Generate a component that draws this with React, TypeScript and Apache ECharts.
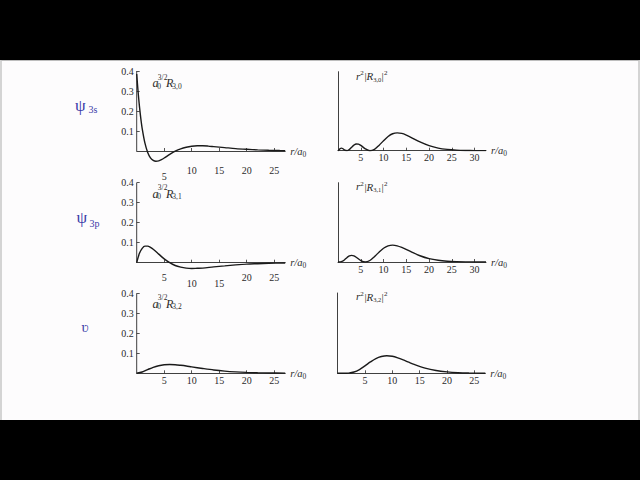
import React, { useEffect, useRef } from "react";
import * as echarts from "echarts";

// ---- data ----
const r30X = [0, 0.25, 0.5, 0.75, 1, 1.5, 2, 2.5, 3, 3.5, 4, 4.5, 5, 6, 7, 8, 9, 10, 11, 12, 13, 14, 16, 18, 20, 22, 24, 26, 27];
const r30Y = [0.385, 0.297, 0.223, 0.162, 0.112, 0.039, -0.007, -0.034, -0.047, -0.051, -0.049, -0.043, -0.035, -0.017, -0.001, 0.011, 0.019, 0.024, 0.026, 0.026, 0.0245, 0.022, 0.017, 0.012, 0.0085, 0.0056, 0.0036, 0.0022, 0.0018];

const r31X = [0, 0.5, 1, 1.5, 2, 2.5, 3, 4, 5, 6, 7, 8, 9, 10, 11, 12, 14, 16, 18, 20, 22, 24, 27];
const r31Y = [0, 0.047, 0.072, 0.083, 0.083, 0.077, 0.067, 0.043, 0.019, 0, -0.014, -0.022, -0.027, -0.029, -0.028, -0.027, -0.021, -0.016, -0.011, -0.007, -0.005, -0.003, -0.0014];

const r32X = [0, 1, 2, 3, 4, 5, 6, 7, 8, 9, 10, 12, 14, 16, 18, 20, 22, 24, 27];
const r32Y = [0, 0.0065, 0.0185, 0.03, 0.038, 0.0426, 0.044, 0.043, 0.04, 0.0364, 0.032, 0.024, 0.0166, 0.011, 0.0072, 0.0046, 0.0028, 0.0017, 0.0008];

const p30X = [0, 0.25, 0.5, 0.75, 1, 1.5, 2, 2.5, 3, 3.5, 4, 4.5, 5, 6, 7, 8, 9, 10, 11, 12, 13, 14, 15, 16, 18, 20, 22, 24, 26, 28, 30, 32.5];
const p30Y = [0, 0.0055, 0.0124, 0.0148, 0.0126, 0.0034, 0.0002, 0.0072, 0.0199, 0.0319, 0.0384, 0.0374, 0.0306, 0.0109, 0.0001, 0.0076, 0.0299, 0.0571, 0.0812, 0.0966, 0.1015, 0.0983, 0.0891, 0.0766, 0.0498, 0.0287, 0.0149, 0.0074, 0.0034, 0.0015, 0.0006, 0.0002];

const p31X = [0, 0.5, 1, 1.5, 2, 2.5, 3, 3.5, 4, 5, 6, 7, 8, 9, 10, 11, 12, 13, 14, 16, 18, 20, 22, 24, 26, 28, 30, 32.5];
const p31Y = [0, 0.0006, 0.0052, 0.0153, 0.0274, 0.0368, 0.0402, 0.0369, 0.0289, 0.009, 0, 0.0092, 0.0321, 0.0595, 0.083, 0.0976, 0.102, 0.098, 0.088, 0.0623, 0.0378, 0.0203, 0.0102, 0.0048, 0.0022, 0.001, 0.0004, 0.0002];

const p32X = [0, 1, 2, 3, 4, 5, 6, 7, 8, 9, 10, 11, 12, 13, 14, 16, 18, 20, 22, 24, 27];
const p32Y = [0, 0.00004, 0.0014, 0.008, 0.0231, 0.0454, 0.0694, 0.0902, 0.1024, 0.1073, 0.1037, 0.0942, 0.0816, 0.0676, 0.054, 0.0315, 0.0168, 0.0085, 0.0038, 0.0017, 0.0005];

const leftXTicks = [5, 10, 15, 20, 25];
const rightXTicksWide = [5, 10, 15, 20, 25, 30];
const rightXTicksNarrow = [5, 10, 15, 20, 25];
const leftYTicks = [0.1, 0.2, 0.3, 0.4];
const lowLabels1 = [5];
const lowLabels3 = [10, 15];
const leftSubs = ["3,0", "3,1", "3,2"];
const noteMain = ["ψ", "ψ", "ʋ"];
const noteSub = ["3s", "3p", ""];

const FONT = '"Liberation Serif", "DejaVu Serif", serif';
const INK = "#1a1a1a";
const AX = "#2a2a2a";

const zip = (xs: number[], ys: number[]) => xs.map((x, i) => [x, ys[i]]);

function xAxisCfg(grid: number, max: number, ticks: number[], low: number[]) {
  return {
    type: "value",
    gridIndex: grid,
    min: 0,
    max,
    axisLine: { show: true, onZero: true, lineStyle: { color: AX, width: 0.9 } },
    axisTick: { show: true, inside: true, length: 3, customValues: ticks, lineStyle: { color: AX, width: 0.8 } },
    axisLabel: {
      show: true,
      customValues: ticks,
      margin: 2,
      fontSize: 10,
      fontFamily: FONT,
      color: AX,
      formatter: (v: number) => (low.includes(v) ? `{lo|${v}}` : `{n|${v}}`),
      rich: {
        n: { fontSize: 10, fontFamily: FONT, color: AX },
        lo: { fontSize: 10, fontFamily: FONT, color: AX, padding: [6, 0, 0, 0] },
      },
    },
    splitLine: { show: false },
    name: "{i|r/a}{s|0}",
    nameLocation: "end",
    nameGap: 5,
    nameTextStyle: {
      rich: {
        i: { fontSize: 10.5, fontFamily: FONT, fontStyle: "italic", color: AX, lineHeight: 14 },
        s: { fontSize: 7.5, fontFamily: FONT, color: AX, lineHeight: 9, verticalAlign: "bottom" },
      },
    },
  };
}

function leftYCfg(grid: number, min: number) {
  return {
    type: "value",
    gridIndex: grid,
    min,
    max: 0.4,
    axisLine: { show: false },
    axisTick: { show: true, inside: true, length: 3, customValues: leftYTicks, lineStyle: { color: AX, width: 0.8 } },
    axisLabel: {
      show: true,
      customValues: leftYTicks,
      margin: 3,
      fontSize: 10,
      fontFamily: FONT,
      color: AX,
      formatter: (v: number) => v.toFixed(1),
    },
    splitLine: { show: false },
  };
}

function rightYCfg(grid: number, max: number) {
  return {
    type: "value",
    gridIndex: grid,
    min: 0,
    max,
    axisLine: { show: true, lineStyle: { color: AX, width: 0.9 } },
    axisTick: { show: false },
    axisLabel: { show: false },
    splitLine: { show: false },
  };
}

function curve(grid: number, data: number[][]) {
  return {
    type: "line",
    xAxisIndex: grid,
    yAxisIndex: grid,
    data,
    symbol: "none",
    showSymbol: false,
    smooth: 0.3,
    lineStyle: { color: INK, width: 1.4 },
    silent: true,
    z: 3,
  };
}

function yLine(grid: number) {
  return {
    type: "line",
    xAxisIndex: grid,
    yAxisIndex: grid,
    data: [
      [0, 0],
      [0, 0.4],
    ],
    symbol: "none",
    clip: false,
    silent: true,
    lineStyle: { color: AX, width: 0.9 },
    z: 2,
  };
}

function txt(x: number, y: number, text: string, size: number, italic = false, color = AX) {
  return {
    type: "text",
    x,
    y,
    silent: true,
    style: {
      text,
      fill: color,
      font: `${italic ? "italic " : ""}${size}px ${FONT}`,
      verticalAlign: "middle",
      align: "left",
    },
  };
}

function leftLabel(dy: number, sub: string) {
  return [
    txt(152.5, 83 + dy, "a", 12, true),
    txt(157.2, 86.2 + dy, "0", 7.5),
    txt(157.8, 77.3 + dy, "3/2", 7.5),
    txt(166, 83 + dy, "R", 12, true),
    txt(172.3, 86.2 + dy, sub, 7.5),
  ];
}

function rightLabel(dy: number, sub: string) {
  return [
    txt(356, 75.5 + dy, "r", 11, true),
    txt(360.3, 73.4 + dy, "2", 7),
    txt(364.4, 76.3 + dy, "|", 11),
    txt(366.6, 76.3 + dy, "R", 11, true),
    txt(373.2, 79.2 + dy, sub, 6.5),
    txt(381.6, 76.3 + dy, "|", 11),
    txt(384, 73.4 + dy, "2", 7),
  ];
}

const BLUE = "#3a3aa8";

export default function App() {
  const ref = useRef<HTMLDivElement>(null);
  useEffect(() => {
    if (!ref.current) return;
    const chart = echarts.init(ref.current, null, { renderer: "svg" });
    const option: any = {
      animation: false,
      backgroundColor: "transparent",
      grid: [
        { left: 136.7, top: 71, width: 148.5, height: 92 },
        { left: 338, top: 71.7, width: 148, height: 79 },
        { left: 136.7, top: 182.7, width: 148.5, height: 88 },
        { left: 338, top: 182.7, width: 148, height: 79.3 },
        { left: 136.7, top: 293.3, width: 148.5, height: 80 },
        { left: 337.6, top: 293, width: 147.7, height: 80.3 },
      ],
      xAxis: [
        xAxisCfg(0, 27, leftXTicks, lowLabels1),
        xAxisCfg(1, 32.5, rightXTicksWide, []),
        xAxisCfg(2, 27, leftXTicks, lowLabels3),
        xAxisCfg(3, 32.5, rightXTicksWide, []),
        xAxisCfg(4, 27, leftXTicks, []),
        xAxisCfg(5, 27, rightXTicksNarrow, []),
      ],
      yAxis: [
        leftYCfg(0, -0.06),
        rightYCfg(1, 0.45),
        leftYCfg(2, -0.04),
        rightYCfg(3, 0.48),
        leftYCfg(4, 0),
        rightYCfg(5, 0.49),
      ],
      series: [
        yLine(0),
        yLine(2),
        yLine(4),
        curve(0, zip(r30X, r30Y)),
        curve(1, zip(p30X, p30Y)),
        curve(2, zip(r31X, r31Y)),
        curve(3, zip(p31X, p31Y)),
        curve(4, zip(r32X, r32Y)),
        curve(5, zip(p32X, p32Y)),
      ],
      graphic: [
        ...leftLabel(0, leftSubs[0]),
        ...leftLabel(110.5, leftSubs[1]),
        ...leftLabel(220.5, leftSubs[2]),
        ...rightLabel(0, leftSubs[0]),
        ...rightLabel(110.7, leftSubs[1]),
        ...rightLabel(220.5, leftSubs[2]),
        txt(75, 105, noteMain[0], 17, false, BLUE),
        txt(88.5, 109, noteSub[0], 10, false, BLUE),
        txt(76.5, 217, noteMain[1], 17, false, BLUE),
        txt(89.5, 223, noteSub[1], 10, false, BLUE),
        txt(81.5, 327, noteMain[2], 15, false, BLUE),
      ],
    };
    chart.setOption(option);
    return () => chart.dispose();
  }, []);

  return (
    <div style={{ position: "fixed", left: 0, top: 0, width: 640, height: 480, background: "#000", overflow: "hidden" }}>
      <div
        style={{
          position: "absolute",
          left: 0,
          top: 60,
          width: 640,
          height: 360,
          background: "#fdfcfd",
          boxSizing: "border-box",
          borderTop: "1px solid #bdbdbd",
          borderLeft: "2px solid #d4d4d4",
          borderRight: "2px solid #d4d4d4",
        }}
      />
      <div ref={ref} style={{ position: "absolute", left: 0, top: 0, width: 640, height: 480 }} />
    </div>
  );
}
